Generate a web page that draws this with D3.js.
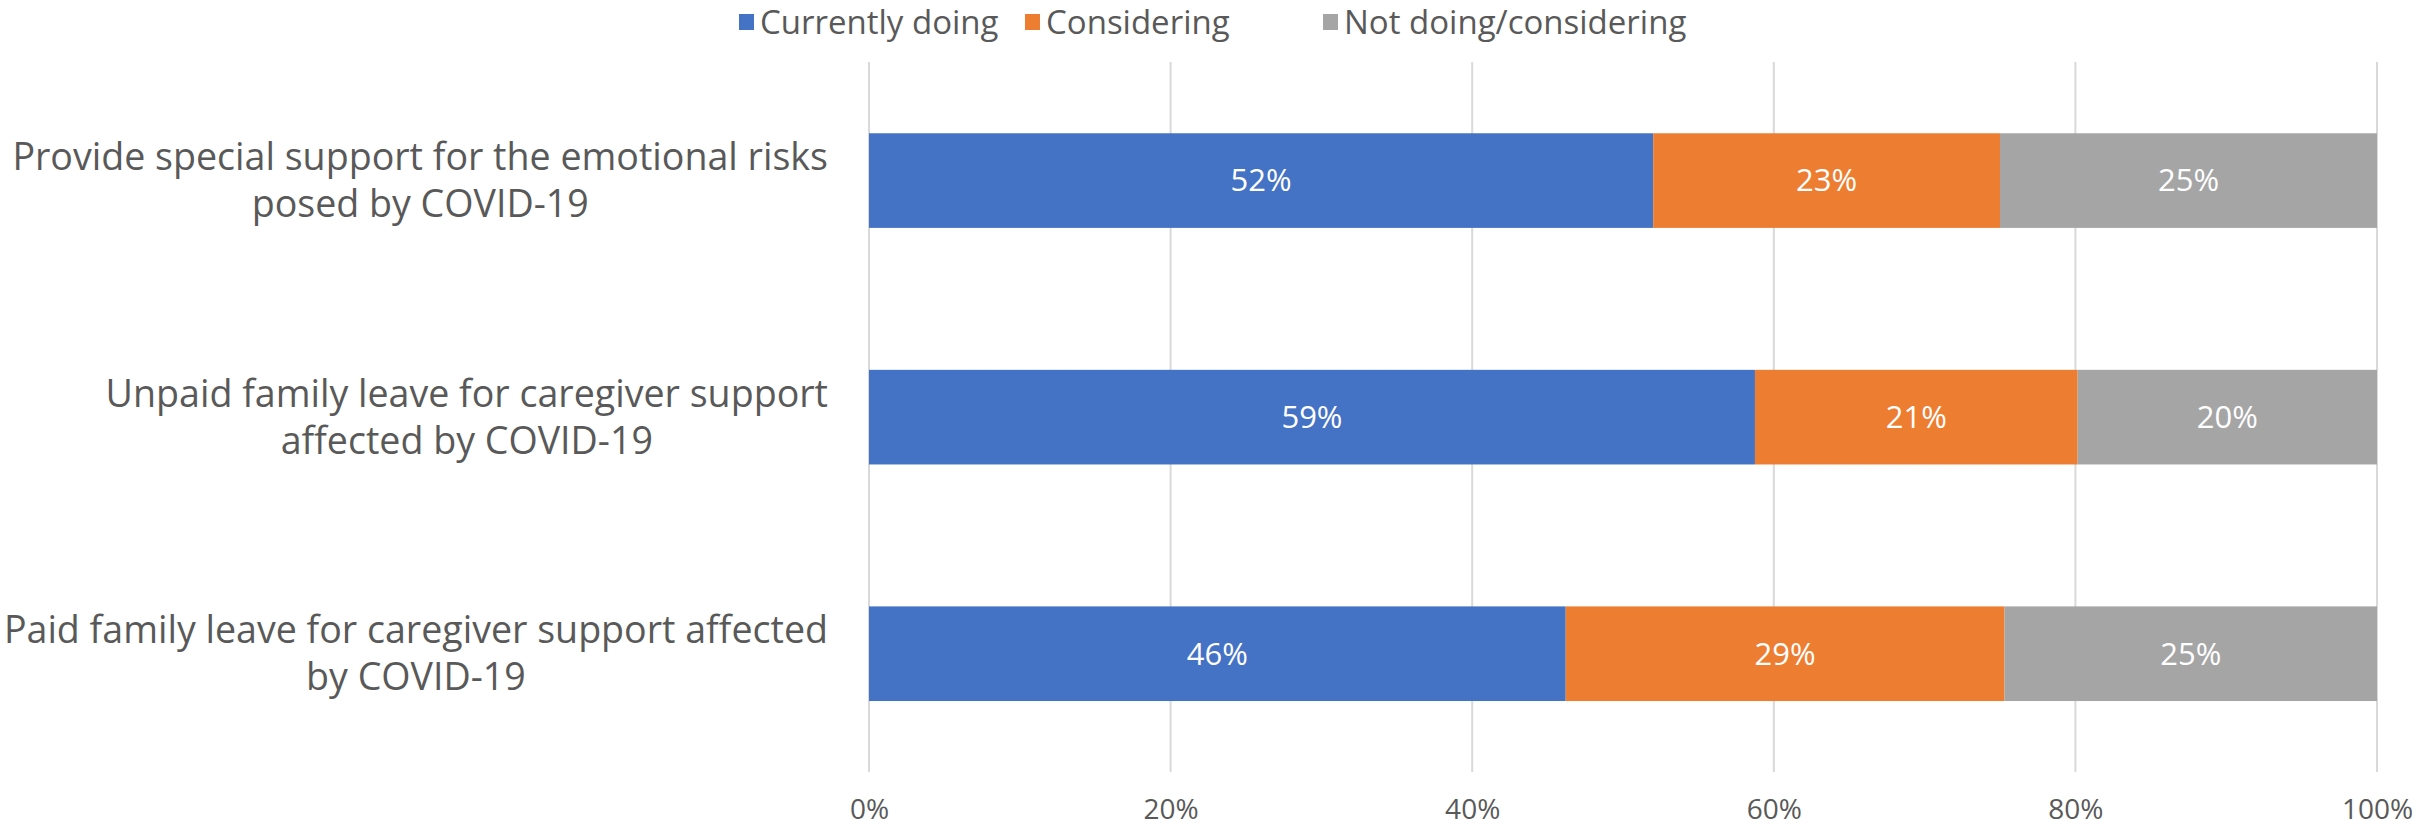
<!DOCTYPE html>
<html>
<head>
<meta charset="utf-8">
<script src="https://cdn.jsdelivr.net/npm/d3@7"></script>
<style>
  body { margin: 0; background: #fff; }
  svg text { font-family: "Open Sans", Lato, sans-serif; fill: #595959; }
</style>
</head>
<body>
<div id="chart"></div>
<script>
// data
const categories = [
	["Provide special support for the emotional risks", "posed by COVID-19"],
	["Unpaid family leave for caregiver support", "affected by COVID-19"],
	["Paid family leave for caregiver support affected", "by COVID-19"]
];
const seriesNames = ["Currently doing", "Considering", "Not doing/considering"];
const currentlyDoing = [52.0, 58.75, 46.2];
const considering = [23.0, 21.4, 29.1];
const notDoing = [25.0, 19.85, 24.7];
const tickValues = [0, 20, 40, 60, 80, 100];

const width = 2418;
const height = 832;
const colors = ['#4472C4', '#ED7D31', '#A5A5A5'];

const svg = d3.select('#chart').append('svg').attr('width', width).attr('height', height);

const x = d3.scaleLinear().domain([0, 100]).range([869, 2377]);
const y = d3.scaleBand().domain(d3.range(categories.length)).range([62.3, 772]).paddingInner(0.6).paddingOuter(0.3);

// gridlines
svg.append('g')
	.selectAll('line')
	.data(tickValues)
	.join('line')
	.attr('x1', d => x(d)).attr('x2', d => x(d))
	.attr('y1', 62).attr('y2', 772)
	.attr('stroke', '#D9D9D9')
	.attr('stroke-width', 2);

// stacked data
const rows = categories.map((c, i) => ({ i: i, a: currentlyDoing[i], b: considering[i], c: notDoing[i] }));
const stack = d3.stack().keys(['a', 'b', 'c']);
const stacked = stack(rows);

const layers = svg.append('g')
	.selectAll('g')
	.data(stacked)
	.join('g')
	.attr('fill', (d, i) => colors[i]);

layers.selectAll('rect')
	.data(d => d)
	.join('rect')
	.attr('x', d => x(d[0]))
	.attr('width', d => x(d[1]) - x(d[0]))
	.attr('y', d => y(d.data.i))
	.attr('height', y.bandwidth());

layers.selectAll('text')
	.data(d => d)
	.join('text')
	.attr('x', d => (x(d[0]) + x(d[1])) / 2)
	.attr('y', d => y(d.data.i) + y.bandwidth() / 2)
	.attr('dy', '0.35em')
	.attr('text-anchor', 'middle')
	.style('fill', '#fff')
	.style('font-size', '31px')
	.text(d => Math.round(d[1] - d[0]) + '%');

// x axis labels
const xAxis = d3.axisBottom(x).tickValues(tickValues).tickSize(0).tickFormat(d => d + '%');
const ax = svg.append('g').attr('transform', 'translate(0,796)').call(xAxis);
ax.select('.domain').remove();
ax.selectAll('text').style('font-size', '28px').style('fill', '#595959').style('font-family', '"Open Sans", Lato, sans-serif');

// category labels, each block centered on its longest line, right edge at 828
const labelG = svg.append('g');
categories.forEach((lines, i) => {
	const cy = y(i) + y.bandwidth() / 2;
	const t = labelG.append('text')
		.attr('text-anchor', 'middle')
		.style('font-size', '37.6px');
	lines.forEach((ln, j) => {
		t.append('tspan').attr('x', 0).attr('y', cy + (j - (lines.length - 1) / 2) * 47).attr('dy', '0.35em').text(ln);
	});
	let w = 0;
	t.selectAll('tspan').each(function() { w = Math.max(w, this.getComputedTextLength()); });
	t.selectAll('tspan').attr('x', 828 - w / 2);
});

// legend
const legendX = [739, 1025, 1323];
const legend = svg.append('g')
	.selectAll('g')
	.data(seriesNames)
	.join('g')
	.attr('transform', (d, i) => `translate(${legendX[i]},22)`);
legend.append('rect').attr('x', 0).attr('y', -8).attr('width', 15).attr('height', 16).attr('fill', (d, i) => colors[i]);
legend.append('text').attr('x', 21).attr('dy', '0.35em').style('font-size', '33px').text(d => d);
</script>
</body>
</html>
